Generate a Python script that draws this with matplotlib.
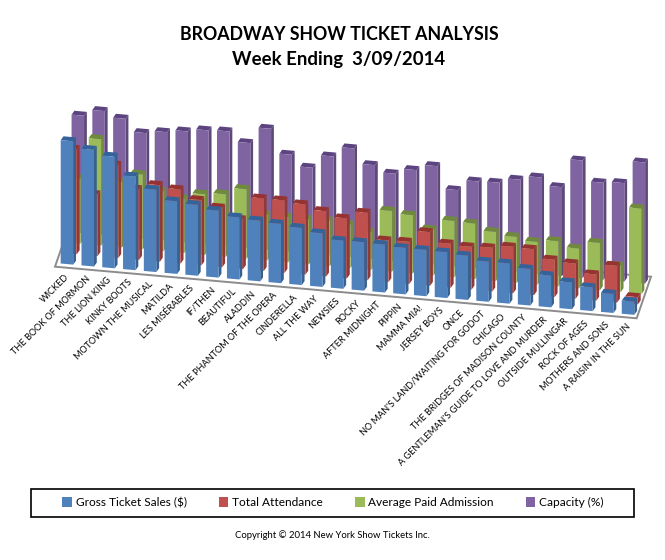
import matplotlib
matplotlib.use("Agg")
import matplotlib.pyplot as plt
from matplotlib.patches import Polygon, Rectangle, Patch

shows = ["WICKED", "THE BOOK OF MORMON", "THE LION KING", "KINKY BOOTS", "MOTOWN THE MUSICAL",
         "MATILDA", "LES MISÉRABLES", "IF/THEN", "BEAUTIFUL", "ALADDIN",
         "THE PHANTOM OF THE OPERA", "CINDERELLA", "ALL THE WAY", "NEWSIES", "ROCKY",
         "AFTER MIDNIGHT", "PIPPIN", "MAMMA MIA!", "JERSEY BOYS", "ONCE",
         "NO MAN'S LAND/WAITING FOR GODOT", "CHICAGO", "THE BRIDGES OF MADISON COUNTY",
         "A GENTLEMAN'S GUIDE TO LOVE AND MURDER", "OUTSIDE MULLINGAR", "ROCK OF AGES",
         "MOTHERS AND SONS", "A RAISIN IN THE SUN"]

gross = [123.3, 116.6, 111.7, 93.6, 82.4, 72.6, 70.9, 67.0, 62.2, 60.7, 59.3, 57.2, 53.6, 48.2,
         48.4, 47.9, 46.5, 46.3, 45.8, 44.3, 40.2, 40.3, 36.6, 31.8, 26.9, 23.8, 19.1, 13.2]
attendance = [105.0, 61.6, 93.0, 70.6, 76.4, 74.0, 65.2, 59.4, 49.6, 72.4, 72.3, 70.2, 65.3, 59.9,
              67.4, 41.6, 42.1, 53.6, 43.9, 42.7, 43.6, 46.4, 45.9, 37.2, 35.3, 26.2, 36.7, 7.2]
admission = [65.2, 106.4, 65.5, 74.8, 59.9, 54.5, 60.7, 62.5, 69.4, 45.9, 45.4, 45.0, 45.5, 43.4,
             37.8, 60.7, 58.3, 45.8, 56.3, 55.5, 49.0, 45.9, 42.7, 45.3, 39.8, 47.3, 26.2, 85.4]
capacity = [117.5, 124.0, 118.2, 105.7, 108.5, 111.1, 114.0, 114.8, 105.0, 121.2, 97.1, 86.0, 99.1, 109.0,
            94.1, 87.4, 92.9, 98.7, 76.6, 87.1, 87.7, 92.6, 96.7, 88.9, 117.4, 97.0, 98.5, 121.0]

series = ["Gross Ticket Sales ($)", "Total Attendance", "Average Paid Admission", "Capacity (%)"]
values = [gross, attendance, admission, capacity]
front = ["#4F81BD", "#C0504D", "#9BBB59", "#8064A2"]
side = ["#38618F", "#8F3A38", "#728A41", "#5D4878"]
top = ["#33639A", "#963230", "#6F8A3A", "#5B4480"]

BODY = ["Lato", "DejaVu Sans"]
fig = plt.figure(figsize=(6.65, 5.6), dpi=100, facecolor="white")
ax = fig.add_axes([0, 0, 1, 1])
ax.set_xlim(0, 665)
ax.set_ylim(560, 0)
ax.axis("off")

# oblique projection of the 3-D chart
X0, Y0 = 60.7, 263.5
DX, DY = 20.78, 1.86      # per category
SX, SY = 3.62, -10.45     # per series (depth)
W = 12.5                  # bar width
DW = W * DY / DX
PX, PY = 2.8, -3.9        # bar depth


def project(i, s, v=0.0):
    return X0 + i * DX + s * SX, Y0 + i * DY + s * SY - v


# floor
c = [(55, 266.7), (636.7, 318.3), (651, 276.7), (69.4, 225.1)]
ax.add_patch(Polygon(c, closed=True, facecolor="white", edgecolor="#8C8C8C", lw=1.4, zorder=1))

z = 2
for s in range(3, -1, -1):
    for i, v in enumerate(values[s]):
        xl, yb = project(i, s)
        yt = yb - v
        ax.add_patch(Polygon([(xl + W, yt + DW), (xl + W + PX, yt + DW + PY),
                              (xl + W + PX, yb + DW + PY), (xl + W, yb + DW)],
                             closed=True, fc=side[s], ec="none", zorder=z))
        ax.add_patch(Polygon([(xl, yt), (xl + W, yt + DW), (xl + W + PX, yt + DW + PY), (xl + PX, yt + PY)],
                             closed=True, fc=top[s], ec="none", zorder=z))
        ax.add_patch(Polygon([(xl, yt), (xl + W, yt + DW), (xl + W, yb + DW), (xl, yb)],
                             closed=True, fc=front[s], ec="none", zorder=z))
    z += 1

# category labels
for i, name in enumerate(shows):
    ax.text(68 + i * DX, 275.5 + i * DY, name, rotation=45, rotation_mode="anchor",
            ha="right", va="center", fontsize=6.6, family=BODY, color="black", zorder=10)

# titles
ax.text(339, 35, "BROADWAY SHOW TICKET ANALYSIS", ha="center", va="center",
        fontsize=12.8, fontweight="bold", family=BODY)
ax.text(339, 60, "Week Ending  3/09/2014", ha="center", va="center",
        fontsize=13.4, fontweight="bold", family=BODY)

# legend
ax.add_patch(Rectangle((30.5, 488.5), 603, 28, fc="white", ec="black", lw=1.2, zorder=5))
handles = [Patch(fc=f, ec="none", label=n) for f, n in zip(front, series)]
leg = ax.legend(handles=handles, ncol=4, frameon=False, loc="center",
                bbox_to_anchor=(333, 502.5), bbox_transform=ax.transData,
                prop={"family": BODY, "size": 8.6}, handlelength=0.8, handleheight=0.8,
                handletextpad=0.3, columnspacing=2.7, borderpad=0, borderaxespad=0)
leg.set_zorder(6)

ax.text(332, 535, "Copyright © 2014 New York Show Tickets Inc.", ha="center", va="center",
        fontsize=6.8, family=BODY)

fig.savefig("out.png", dpi=100, facecolor="white")
